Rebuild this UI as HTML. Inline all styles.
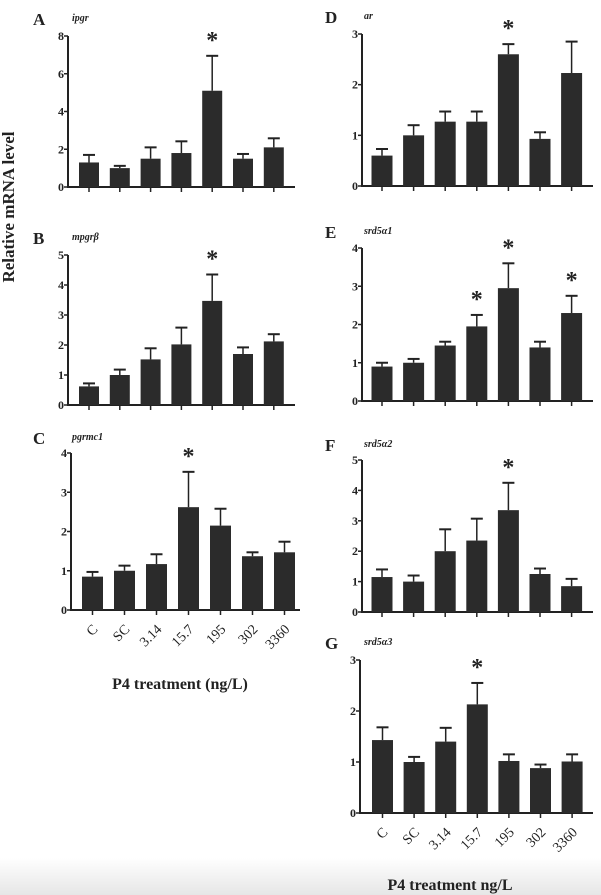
<!DOCTYPE html>
<html><head><meta charset="utf-8"><style>
html,body{margin:0;padding:0;background:#fff;}
svg{display:block;font-family:"Liberation Serif",serif;}
</style></head><body>
<svg id="fig" width="601" height="895" viewBox="0 0 601 895">
<defs><linearGradient id="bg" x1="0" y1="0" x2="0" y2="1"><stop offset="0" stop-color="#fff"/><stop offset="1" stop-color="#e6e6e6"/></linearGradient></defs>
<rect x="0" y="858" width="601" height="37" fill="url(#bg)"/>
<text x="0" y="0" transform="translate(14,207) rotate(-90)" text-anchor="middle" font-size="17" font-weight="bold" fill="#222">Relative mRNA level</text>
<text x="180" y="689" text-anchor="middle" font-size="16" font-weight="bold" fill="#222">P4 treatment (ng/L)</text>
<text x="450" y="890" text-anchor="middle" font-size="16" font-weight="bold" fill="#222">P4 treatment ng/L</text>
</svg>
<script>
const categories = ["C","SC","3.14","15.7","195","302","3360"];
const ipgrMean = [1.3,1.0,1.5,1.8,5.1,1.5,2.1];
const ipgrErr = [0.4,0.12,0.6,0.62,1.85,0.25,0.48];
const mpgrMean = [0.62,1.0,1.52,2.02,3.47,1.7,2.12];
const mpgrErr = [0.1,0.18,0.37,0.56,0.88,0.22,0.24];
const pgrmc1Mean = [0.85,1.0,1.17,2.62,2.15,1.37,1.47];
const pgrmc1Err = [0.12,0.13,0.25,0.9,0.43,0.1,0.27];
const arMean = [0.6,1.0,1.27,1.27,2.6,0.93,2.23];
const arErr = [0.13,0.2,0.2,0.2,0.2,0.13,0.62];
const srd1Mean = [0.9,1.0,1.45,1.95,2.95,1.4,2.3];
const srd1Err = [0.1,0.1,0.1,0.3,0.65,0.15,0.45];
const srd2Mean = [1.15,1.0,2.0,2.35,3.35,1.25,0.85];
const srd2Err = [0.25,0.2,0.72,0.72,0.9,0.18,0.24];
const srd3Mean = [1.43,1.0,1.4,2.13,1.02,0.88,1.01];
const srd3Err = [0.25,0.1,0.27,0.42,0.13,0.07,0.14];
const panels = [
 {id:"a",letter:"A",gene:"ipgr",mean:ipgrMean,err:ipgrErr,max:8,step:2,stars:[4],ax:68,ay0:187,ay1:36,x0:89,dx:30.8,bw:20,end:295,lx:33,ly:25,labels:false},
 {id:"b",letter:"B",gene:"mpgrβ",mean:mpgrMean,err:mpgrErr,max:5,step:1,stars:[4],ax:68,ay0:405,ay1:255,x0:89,dx:30.8,bw:20,end:295,lx:33,ly:244,labels:false},
 {id:"c",letter:"C",gene:"pgrmc1",mean:pgrmc1Mean,err:pgrmc1Err,max:4,step:1,stars:[3],ax:71,ay0:610,ay1:453,x0:92.5,dx:32,bw:21,end:300,lx:33,ly:444,labels:true},
 {id:"d",letter:"D",gene:"ar",mean:arMean,err:arErr,max:3,step:1,stars:[4],ax:362,ay0:186,ay1:34,x0:382,dx:31.6,bw:21,end:593,lx:325,ly:23,labels:false},
 {id:"e",letter:"E",gene:"srd5α1",mean:srd1Mean,err:srd1Err,max:4,step:1,stars:[3,4,6],ax:362,ay0:401,ay1:248,x0:382,dx:31.6,bw:21,end:593,lx:325,ly:238,labels:false},
 {id:"f",letter:"F",gene:"srd5α2",mean:srd2Mean,err:srd2Err,max:5,step:1,stars:[4],ax:362,ay0:612,ay1:460,x0:382,dx:31.6,bw:21,end:593,lx:325,ly:451,labels:false},
 {id:"g",letter:"G",gene:"srd5α3",mean:srd3Mean,err:srd3Err,max:3,step:1,stars:[3],ax:360,ay0:813,ay1:660,x0:382.5,dx:31.6,bw:21,end:593,lx:325,ly:649,labels:true}
];
const NS="http://www.w3.org/2000/svg";
const svg=document.getElementById("fig");
function mk(tag,attrs,parent){const e=document.createElementNS(NS,tag);for(const k in attrs)e.setAttribute(k,attrs[k]);(parent||svg).appendChild(e);return e;}
panels.forEach(p=>{
 const g=mk("g",{});
 
 
 const yS=v=>p.ay0-(v/p.max)*(p.ay0-p.ay1);
 const xS=i=>p.x0+i*p.dx;
 const L=mk("text",{x:p.lx,y:p.ly,"font-size":17,"font-weight":"bold",fill:"#222"},g);L.textContent=p.letter;
 
 
 const G=mk("text",{x:p.lx+39,y:p.ly-4,"font-size":10,"font-weight":"bold","font-style":"italic",fill:"#222"},g);G.textContent=p.gene;
 
 
 const ya=mk("line",{x1:p.ax,y1:p.ay1,x2:p.ax,y2:p.ay0+1,stroke:"#222","stroke-width":2},g);
 
 
 const xa=mk("line",{x1:p.ax-1,y1:p.ay0,x2:p.end,y2:p.ay0,stroke:"#222","stroke-width":2},g);
 
 
 for(let v=0;v<=p.max+1e-9;v+=p.step){
  const y=yS(v);
  mk("line",{x1:p.ax-4,y1:y,x2:p.ax,y2:y,stroke:"#222","stroke-width":1.5},g);
  const t=mk("text",{x:p.ax-4,y:y+4,"text-anchor":"end","font-size":12,"font-weight":"bold",fill:"#222"},g);t.textContent=v;
  
  
 }
 p.mean.forEach((m,i)=>{
  const cx=xS(i);
  mk("line",{x1:cx,y1:p.ay0,x2:cx,y2:p.ay0+5,stroke:"#222","stroke-width":1.5},g);
  const top=yS(m+p.err[i]);
  mk("line",{x1:cx,y1:yS(m),x2:cx,y2:top,stroke:"#222","stroke-width":1.5},g);
  mk("line",{x1:cx-6,y1:top,x2:cx+6,y2:top,stroke:"#222","stroke-width":2},g);
  const r=mk("rect",{x:cx-p.bw/2,y:yS(m),width:p.bw,height:p.ay0-yS(m),fill:"#2b2b2b"},g);
  
  
  if(p.stars.includes(i)){
   const s=mk("text",{x:cx,y:top-8,"text-anchor":"middle","font-size":24,"font-weight":"bold",fill:"#222"},g);s.textContent="*";
   
   
  }
  if(p.labels){
   const t=mk("text",{x:0,y:0,transform:`translate(${cx+6},${p.ay0+20}) rotate(-45)`,"text-anchor":"end","font-size":14,fill:"#222"},g);t.textContent=categories[i];
   
   
  }
 });
});
</script>
</body></html>
